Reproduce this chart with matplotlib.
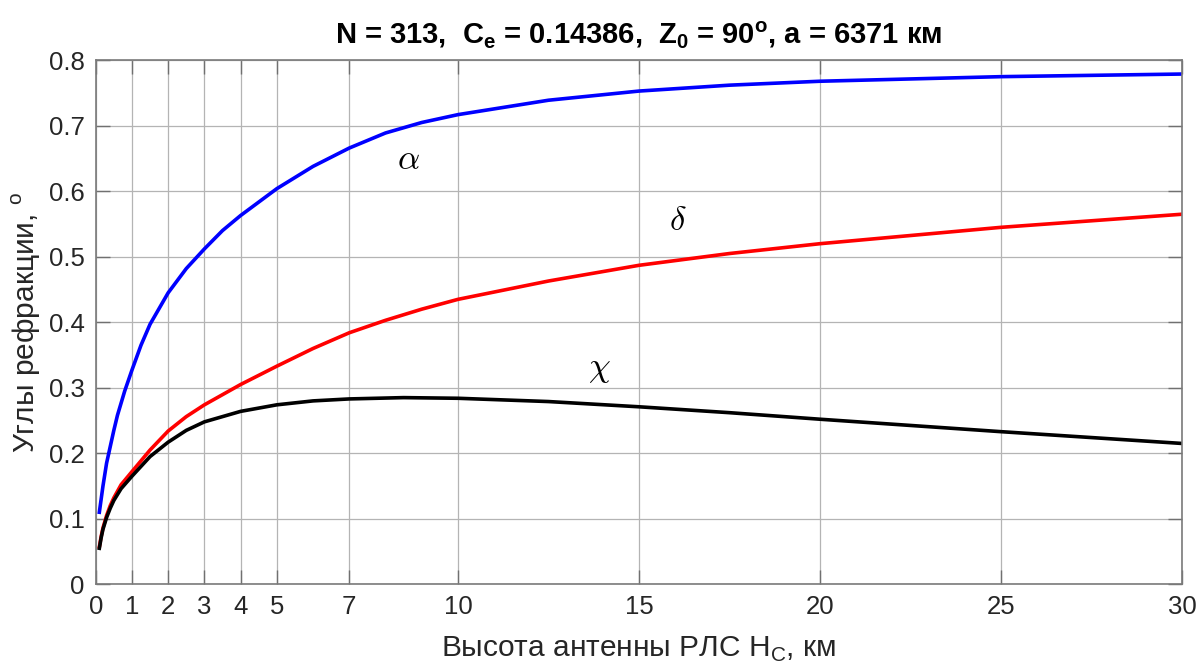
import matplotlib
matplotlib.use('Agg')
import matplotlib.pyplot as plt

# heights of the radar antenna, km, and refraction angles, degrees
h_alpha = [0.1, 0.15, 0.2, 0.3, 0.4, 0.5, 0.6, 0.8, 1, 1.25, 1.5, 2, 2.5, 3, 3.5, 4, 5, 6, 7, 8, 9,
           10, 12.5, 15, 17.5, 20, 25, 30]
alpha = [0.11, 0.13, 0.15, 0.185, 0.21, 0.235, 0.258, 0.295, 0.327, 0.365, 0.397, 0.445, 0.482,
         0.512, 0.54, 0.563, 0.604, 0.638, 0.666, 0.689, 0.705, 0.717, 0.739, 0.753, 0.762, 0.768,
         0.775, 0.779]

h_delta = [0.1, 0.15, 0.2, 0.3, 0.4, 0.5, 0.7, 1, 1.5, 2, 2.5, 3, 4, 5, 6, 7, 8, 9, 10, 12.5, 15,
           17.5, 20, 25, 30]
delta = [0.057, 0.073, 0.086, 0.105, 0.12, 0.132, 0.152, 0.172, 0.205, 0.234, 0.256, 0.274, 0.305,
         0.333, 0.36, 0.384, 0.403, 0.42, 0.435, 0.463, 0.487, 0.505, 0.52, 0.545, 0.565]

h_chi = [0.1, 0.15, 0.2, 0.3, 0.4, 0.5, 0.7, 1, 1.5, 2, 2.5, 3, 4, 5, 6, 7, 8.5, 10, 12.5, 15,
         17.5, 20, 25, 30]
chi = [0.055, 0.071, 0.084, 0.102, 0.116, 0.128, 0.146, 0.165, 0.195, 0.217, 0.235, 0.248, 0.264,
       0.274, 0.28, 0.283, 0.285, 0.284, 0.279, 0.271, 0.262, 0.252, 0.233, 0.215]

x_ticks = [0, 1, 2, 3, 4, 5, 7, 10, 15, 20, 25, 30]
y_ticks = [0, 0.1, 0.2, 0.3, 0.4, 0.5, 0.6, 0.7, 0.8]

plt.rcParams['font.family'] = ['Liberation Sans', 'DejaVu Sans']
plt.rcParams['mathtext.fontset'] = 'custom'
plt.rcParams['mathtext.rm'] = 'Liberation Sans'
plt.rcParams['mathtext.bf'] = 'Liberation Sans:bold'

fig = plt.figure(figsize=(11.98, 6.69), dpi=100)
ax = fig.add_axes([0.0799, 0.1266, 0.907, 0.7833])

ax.plot(h_alpha, alpha, color='#0000ff', lw=2.6)
ax.plot(h_delta, delta, color='#ff0000', lw=2.6)
ax.plot(h_chi, chi, color='black', lw=2.6)

greek = dict(fontsize=25, ha='center', va='center', color='black', math_fontfamily='cm')
ax.text(8.63, 0.649, '$\\alpha$', **greek)
ax.text(16.07, 0.556, '$\\delta$', **greek)
ax.text(13.9, 0.33, '$\\chi$', **greek)

ax.set_xlim(0, 30)
ax.set_ylim(0, 0.8)
ax.set_xticks(x_ticks)
ax.set_yticks(y_ticks)
ax.set_xticklabels([str(t) for t in x_ticks])
ax.set_yticklabels(['0'] + ['%.1f' % t for t in y_ticks[1:]])
ax.grid(True, color='#b4b4b4', lw=0.9)
ax.tick_params(direction='in', length=10, width=1, colors='#707070', labelcolor='#262626',
               labelsize=18.5, top=True, right=True)
ax.tick_params(axis='x', pad=8)
ax.tick_params(axis='y', pad=8)
for s in ax.spines.values():
    s.set_color('#7a7a7a')
    s.set_linewidth(1.2)

ax.set_xlabel('Высота антенны РЛС H$_\\mathrm{C}$, км', fontsize=21.5, color='#262626', labelpad=11)
ax.set_ylabel('Углы рефракции, $^\\mathrm{o}$', fontsize=21.5, color='#262626', labelpad=4)
ax.set_title('N = 313,  C$_\\mathbf{e}$ = 0.14386,  Z$_\\mathbf{0}$ = 90$^\\mathbf{o}$, a = 6371 км',
             fontsize=21, fontweight='bold', pad=12)

fig.savefig('out.png', dpi=100)
